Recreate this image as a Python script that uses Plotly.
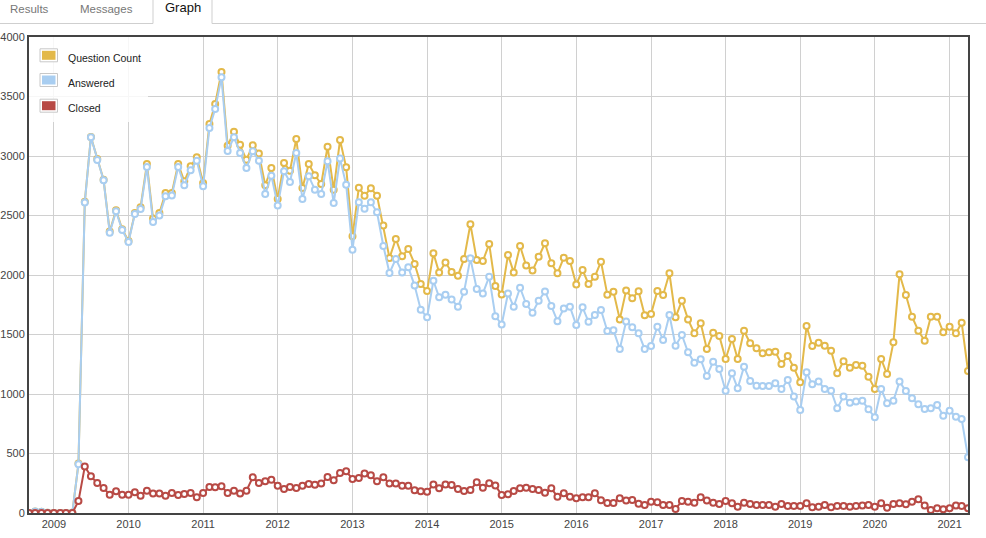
import pandas as pd
import plotly.graph_objects as go

# ---------------- data ----------------
months = pd.date_range("2008-09-01", periods=152, freq="MS")

question_count = [
    0, 12, 10, 2, 1, 1, 1, 3, 415, 2615,
    3160, 2975, 2800, 2365, 2545, 2385, 2285, 2520, 2570, 2933,
    2474, 2521, 2689, 2689, 2933, 2787, 2913, 2989, 2773, 3269,
    3437, 3706, 3087, 3204, 3095, 2969, 3090, 3020, 2754, 2899,
    2639, 2941, 2877, 3143, 2731, 2933, 2838, 2765, 3078, 2717,
    3134, 2905, 2325, 2734, 2667, 2728, 2667, 2415, 2143, 2303,
    2157, 2219, 2093, 1924, 1865, 2183, 2020, 2105, 2025, 1994,
    2135, 2427, 2126, 2118, 2261, 1907, 1837, 2169, 2022, 2244,
    2079, 2037, 2154, 2267, 2098, 2014, 2146, 2118, 1921, 2042,
    1924, 1986, 2112, 1835, 1860, 1627, 1870, 1804, 1864, 1662,
    1672, 1866, 1832, 2014, 1644, 1784, 1627, 1510, 1594, 1378,
    1515, 1487, 1294, 1462, 1294, 1532, 1426, 1384, 1342, 1350,
    1356, 1252, 1319, 1221, 1098, 1571, 1403, 1431, 1406, 1364,
    1174, 1275, 1221, 1244, 1238, 1146, 1042, 1294, 1168, 1434,
    2006, 1832, 1650, 1532, 1448, 1650, 1650, 1518, 1566, 1510,
    1599, 1193,
]

answered = [
    0, 12, 10, 2, 1, 1, 1, 3, 410, 2610,
    3157, 2966, 2796, 2356, 2535, 2378, 2277, 2513, 2555, 2908,
    2445, 2499, 2661, 2669, 2908, 2754, 2880, 2961, 2745, 3235,
    3395, 3661, 3042, 3157, 3025, 2899, 3039, 2961, 2681, 2835,
    2583, 2871, 2782, 3025, 2639, 2829, 2717, 2681, 2955, 2605,
    2978, 2759, 2213, 2611, 2557, 2611, 2527, 2244, 2017, 2135,
    2022, 2065, 1911, 1709, 1645, 1952, 1812, 1834, 1795, 1733,
    1860, 2140, 1882, 1845, 1986, 1654, 1584, 1845, 1733, 1893,
    1756, 1683, 1784, 1862, 1739, 1612, 1719, 1733, 1579, 1728,
    1607, 1663, 1706, 1530, 1535, 1378, 1610, 1560, 1510, 1378,
    1403, 1566, 1454, 1664, 1406, 1496, 1350, 1263, 1291, 1151,
    1272, 1210, 1028, 1174, 1048, 1230, 1109, 1070, 1067, 1067,
    1090, 1042, 1118, 978, 865, 1182, 1081, 1104, 1042, 1028,
    880, 978, 927, 936, 944, 871, 804, 1042, 922, 944,
    1104, 1025, 964, 913, 874, 880, 908, 818, 860, 809,
    790, 468,
]

closed = [
    0, 0, 0, 0, 0, 0, 0, 0, 100, 390,
    308, 252, 210, 154, 182, 154, 154, 174, 146, 188,
    163, 163, 146, 168, 152, 160, 168, 132, 168, 219,
    216, 224, 168, 188, 163, 188, 300, 252, 266, 280,
    230, 202, 219, 210, 230, 244, 238, 247, 303, 275,
    336, 350, 286, 294, 331, 317, 266, 300, 247, 247,
    230, 230, 191, 182, 178, 240, 208, 240, 235, 202,
    185, 193, 258, 213, 249, 232, 151, 157, 185, 207,
    213, 202, 193, 171, 207, 137, 165, 137, 123, 132,
    132, 165, 107, 84, 84, 123, 106, 109, 78, 67,
    95, 90, 67, 67, 34, 101, 95, 87, 132, 104,
    87, 76, 101, 81, 53, 87, 76, 67, 67, 67,
    53, 76, 59, 59, 59, 81, 48, 53, 67, 48,
    59, 59, 53, 59, 62, 67, 53, 81, 45, 76,
    81, 73, 95, 115, 62, 25, 39, 31, 39, 62,
    59, 39,
]

series_names = ["Question Count", "Answered", "Closed"]
series_colors = ["#E3B94A", "#A9CEF1", "#B84A45"]
tab_labels = ["Results", "Messages", "Graph"]

# ---------------- layout geometry (pixels) ----------------
W, H = 986, 538
L, R, T, B = 29, 968, 37, 513


def px(xp):
    return (xp - L) / (R - L)


def py(yp):
    return (B - yp) / (B - T)


fig = go.Figure()
for name, vals, col in zip(series_names, [question_count, answered, closed], series_colors):
    fig.add_trace(go.Scatter(
        x=months, y=vals, name=name, mode="lines+markers",
        line=dict(color=col, width=2),
        marker=dict(size=6, color="white", line=dict(color=col, width=2)),
        showlegend=False,
    ))

shapes = []
annotations = []

# legend backdrop
shapes.append(dict(type="rect", xref="paper", yref="paper",
                   x0=px(L), x1=px(148), y0=py(122), y1=py(T),
                   fillcolor="rgba(255,255,255,0.82)", line=dict(width=0), layer="above"))
legend_rows = [55.3, 80, 105.7]
for name, col, yc in zip(series_names, series_colors, legend_rows):
    shapes.append(dict(type="rect", xref="paper", yref="paper",
                       x0=px(40), x1=px(57.5), y0=py(yc + 6.5), y1=py(yc - 6.5),
                       fillcolor="white", line=dict(color="#c8c8c8", width=1), layer="above"))
    shapes.append(dict(type="rect", xref="paper", yref="paper",
                       x0=px(42), x1=px(55.5), y0=py(yc + 4.5), y1=py(yc - 4.5),
                       fillcolor=col, line=dict(width=0), layer="above"))
    annotations.append(dict(xref="paper", yref="paper", x=px(65.5), y=py(yc + 2.5),
                            text=name, showarrow=False, xanchor="left", yanchor="middle",
                            font=dict(size=10.5, color="#222222")))

# tabs
line_y = py(23.5)
shapes.append(dict(type="line", xref="paper", yref="paper", x0=px(0), x1=px(153),
                   y0=line_y, y1=line_y, line=dict(color="#cfcfcf", width=1)))
shapes.append(dict(type="line", xref="paper", yref="paper", x0=px(212), x1=px(W),
                   y0=line_y, y1=line_y, line=dict(color="#cfcfcf", width=1)))
shapes.append(dict(type="line", xref="paper", yref="paper", x0=px(153), x1=px(153),
                   y0=line_y, y1=py(-2), line=dict(color="#cfcfcf", width=1)))
shapes.append(dict(type="line", xref="paper", yref="paper", x0=px(212), x1=px(212),
                   y0=line_y, y1=py(-2), line=dict(color="#cfcfcf", width=1)))
tab_x = [29, 106, 182.5]
tab_y = [9.5, 9.5, 8]
tab_col = ["#777777", "#777777", "#111111"]
tab_size = [11.5, 11.5, 13]
for lab, xc, yc, c, s in zip(tab_labels, tab_x, tab_y, tab_col, tab_size):
    annotations.append(dict(xref="paper", yref="paper", x=px(xc), y=py(yc), text=lab,
                            showarrow=False, xanchor="center", yanchor="middle",
                            font=dict(size=s, color=c)))

fig.update_layout(
    width=W, height=H,
    margin=dict(l=L, r=W - R, t=T, b=H - B, pad=0, autoexpand=False),
    paper_bgcolor="white", plot_bgcolor="white",
    font=dict(family="Liberation Sans, Arial, sans-serif", size=11, color="#444444"),
    shapes=shapes, annotations=annotations,
    showlegend=False,
    hovermode="closest",
)
fig.update_xaxes(
    type="date", range=["2008-09-01", "2021-04-01"],
    tick0="2009-01-01", dtick="M12", tickformat="%Y",
    showgrid=True, gridcolor="#d0d0d0", gridwidth=1,
    showline=True, linecolor="#444444", linewidth=2, mirror=True,
    zeroline=False, ticks="", tickfont=dict(size=11, color="#444444"),
    automargin=False,
)
fig.update_yaxes(
    range=[0, 4000], dtick=500, tick0=0,
    showgrid=True, gridcolor="#d0d0d0", gridwidth=1,
    showline=True, linecolor="#444444", linewidth=2, mirror=True,
    zeroline=False, ticks="", tickfont=dict(size=11, color="#444444"),
    automargin=False,
)

fig.write_html("out.html", config={"displayModeBar": False})
